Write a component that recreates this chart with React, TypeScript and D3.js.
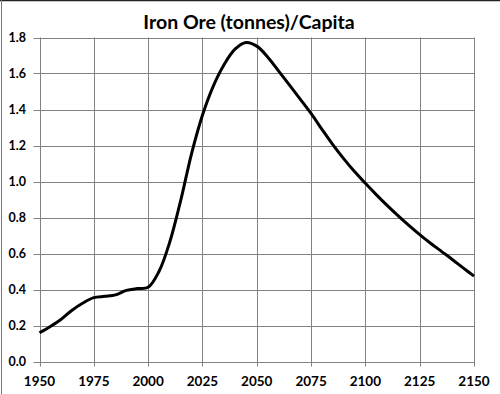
import React, { useEffect, useRef } from 'react';
import * as d3 from 'd3';

const width = 500;
const height = 394;

// values
const years = [1950, 1955, 1960, 1965, 1970, 1975, 1980, 1985, 1990, 1995, 2000,
  2005, 2010, 2015, 2020, 2025, 2030, 2035, 2040, 2045, 2050,
  2055, 2060, 2065, 2070, 2075, 2080, 2085, 2090, 2095, 2100,
  2105, 2110, 2115, 2120, 2125, 2130, 2135, 2140, 2145, 2150];
const orePerCapita = [0.16, 0.195, 0.235, 0.285, 0.325, 0.355, 0.362, 0.37, 0.395, 0.405, 0.412,
  0.5, 0.665, 0.895, 1.155, 1.368, 1.53, 1.65, 1.735, 1.772, 1.752,
  1.692, 1.615, 1.537, 1.458, 1.378, 1.29, 1.205, 1.127, 1.055, 0.99,
  0.927, 0.867, 0.81, 0.756, 0.705, 0.657, 0.612, 0.567, 0.52, 0.474];
const xTicks = [1950, 1975, 2000, 2025, 2050, 2075, 2100, 2125, 2150];
const yTicks = [0, 0.2, 0.4, 0.6, 0.8, 1.0, 1.2, 1.4, 1.6, 1.8];
const title = 'Iron Ore (tonnes)/Capita';

const margin = { left: 39.5, right: 26, top: 37.5, bottom: 32.5 };

const App = () => {
  const ref = useRef<SVGSVGElement | null>(null);

  useEffect(() => {
    if (!ref.current) return;
    const svg = d3.select(ref.current);
    svg.selectAll('*').remove();

    const x = d3.scaleLinear().domain([1950, 2150]).range([margin.left, width - margin.right]);
    const y = d3.scaleLinear().domain([0, 1.8]).range([height - margin.bottom, margin.top]);

    svg.append('rect').attr('width', width).attr('height', height).attr('fill', '#fff');

    // frame (cropped outer border)
    svg.append('line').attr('x1', 0).attr('x2', width).attr('y1', 0.5).attr('y2', 0.5)
      .attr('stroke', '#222').attr('stroke-width', 1.5);
    svg.append('line').attr('x1', 1.5).attr('x2', 1.5).attr('y1', 0).attr('y2', height)
      .attr('stroke', '#777').attr('stroke-width', 1);

    const grid = svg.append('g').attr('stroke', '#828282').attr('stroke-width', 1);
    grid.selectAll('.h').data(yTicks).enter().append('line')
      .attr('x1', margin.left - 6).attr('x2', x(2150))
      .attr('y1', d => Math.round(y(d)) + 0.5).attr('y2', d => Math.round(y(d)) + 0.5);
    grid.selectAll('.v').data(xTicks).enter().append('line')
      .attr('x1', d => Math.round(x(d)) + 0.5).attr('x2', d => Math.round(x(d)) + 0.5)
      .attr('y1', y(1.8)).attr('y2', y(0) + 5);

    const font = 'Lato, "Open Sans", sans-serif';

    svg.append('g').selectAll('text').data(yTicks).enter().append('text')
      .attr('x', 26).attr('y', d => y(d)).attr('dy', '0.35em')
      .attr('text-anchor', 'end')
      .style('font-family', font).style('font-weight', 'bold').style('font-size', '12.5px')
      .text(d => d.toFixed(1));

    svg.append('g').selectAll('text').data(xTicks).enter().append('text')
      .attr('x', d => x(d)).attr('y', 386)
      .attr('text-anchor', 'middle')
      .style('font-family', font).style('font-weight', 'bold').style('font-size', '13.5px')
      .text(d => d);

    svg.append('text')
      .attr('x', 249).attr('y', 28.5)
      .attr('text-anchor', 'middle')
      .style('font-family', font).style('font-weight', 'bold').style('font-size', '19.5px')
      .text(title);

    const line = d3.line<number>()
      .x((d, i) => x(years[i]))
      .y(d => y(d))
      .curve(d3.curveCatmullRom.alpha(0.5));

    svg.append('path')
      .datum(orePerCapita)
      .attr('fill', 'none')
      .attr('stroke', '#000')
      .attr('stroke-width', 3)
      .attr('stroke-linejoin', 'round')
      .attr('d', line);
  }, []);

  return (
    <svg ref={ref} width={width} height={height}
      style={{ position: 'absolute', left: 0, top: 0 }} />
  );
};

export default App;
